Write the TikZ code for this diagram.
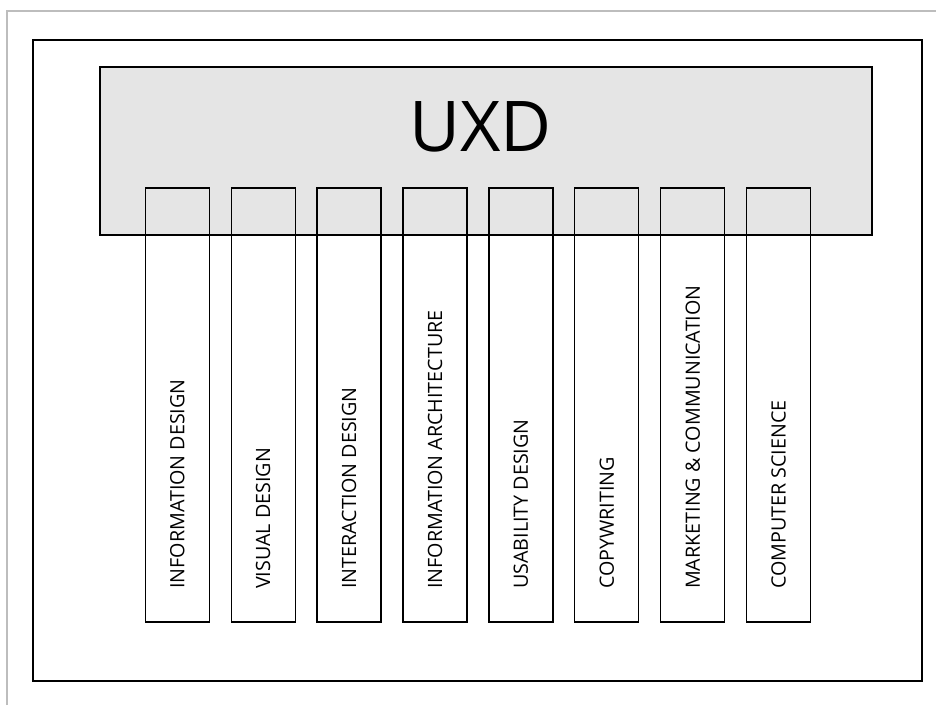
\documentclass[tikz,border=0pt]{standalone}
\usepackage{fontspec}
\setmainfont{Open Sans}
\definecolor{framegray}{HTML}{BDBDBD}
\definecolor{boxgray}{HTML}{E5E5E5}
\begin{document}
\begin{tikzpicture}[x=1pt,y=-1pt,
  colbox/.style={draw=black, line width=1.3pt, minimum width=64pt, minimum height=434pt, inner sep=0pt},
  coltext/.style={rotate=90, anchor=west, inner sep=0pt, font=\fontsize{19.7}{22}\selectfont},
]
\useasboundingbox (0,0) rectangle (936,705);
% screenshot frame
\draw[framegray, line width=1.5pt] (7,705) -- (7,11) -- (936,11);
% outer black frame
\node[draw=black, line width=1.3pt, minimum width=889pt, minimum height=641pt, inner sep=0pt] (outer) at (477.5,360.5) {};
% UXD box
\node[draw=black, fill=boxgray, line width=1.3pt, minimum width=772pt, minimum height=168pt, inner sep=0pt] (uxd) at (486,151) {};
\node[inner sep=0pt, font=\fontsize{70}{80}\selectfont] (uxdt) at (480.5,127) {UXD};
% columns
\foreach \i/\t in {0/INFORMATION DESIGN,1/VISUAL DESIGN,2/INTERACTION DESIGN,3/INFORMATION ARCHITECTURE,4/USABILITY DESIGN,5/COPYWRITING,6/MARKETING \& COMMUNICATION,7/COMPUTER SCIENCE}{
  \node[colbox] (c\i) at ({177.3+85.9*\i},405) {};
  \node[coltext] (t\i) at ({177.3+85.9*\i},589) {\t};
}
\end{tikzpicture}
\end{document}
